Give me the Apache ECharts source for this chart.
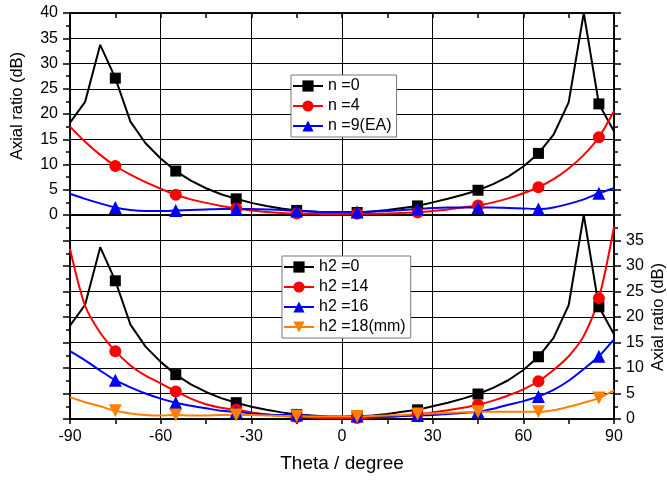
<!DOCTYPE html>
<html>
<head>
<meta charset="utf-8">
<script src="https://cdn.jsdelivr.net/npm/echarts@6/dist/echarts.min.js"></script>
<style>html,body{margin:0;padding:0;background:#fff}#c{width:667px;height:480px}</style>
</head>
<body>
<div id="c"></div>
<script>
// Theta values (degree)
var theta = [-90,-85,-80,-75,-70,-65,-60,-55,-50,-45,-40,-35,-30,-25,-20,-15,-10,-5,0,5,10,15,20,25,30,35,40,45,50,55,60,65,70,75,80,85,90];
var xTicks = [-90,-60,-30,0,30,60,90];
var yTicksTop = [0,5,10,15,20,25,30,35,40];
var yTicksBottom = [0,5,10,15,20,25,30,35];

// Top panel
var n0 = [18.3,22.4,33.7,27.1,18.5,14.2,11.2,8.7,6.8,5.3,4.1,3.2,2.4,1.8,1.3,0.9,0.7,0.5,0.4,0.5,0.7,1.0,1.4,1.8,2.5,3.2,4.0,4.9,6.1,7.6,9.6,12.2,15.9,22.3,40,22.0,16.6];
var n4 = [17.5,14.5,11.9,9.7,8.0,6.5,5.2,4.0,3.1,2.4,1.8,1.3,0.9,0.6,0.4,0.3,0.25,0.2,0.2,0.25,0.25,0.3,0.4,0.5,0.8,1.1,1.5,1.9,2.5,3.3,4.3,5.5,7.1,9.2,11.9,15.4,20.6];
var n9 = [4.2,3.2,2.3,1.5,1.0,0.8,0.8,0.9,1.0,1.1,1.2,1.2,1.2,1.1,1.0,0.8,0.7,0.6,0.6,0.6,0.7,0.8,1.0,1.2,1.4,1.5,1.5,1.5,1.5,1.4,1.3,1.2,1.5,2.2,3.1,4.3,5.3];

// Bottom panel
var h0 = [18.3,22.4,33.7,27.1,18.5,14.2,11.2,8.7,6.8,5.3,4.1,3.2,2.4,1.8,1.3,0.9,0.7,0.5,0.4,0.5,0.7,1.0,1.4,1.8,2.5,3.2,4.0,4.9,6.1,7.6,9.6,12.2,15.9,22.3,40,22.0,16.6];
var h14 = [33.4,22.2,16.9,13.3,10.5,8.5,7.0,5.4,4.0,2.9,2.2,1.8,1.3,0.9,0.6,0.4,0.3,0.2,0.2,0.2,0.3,0.4,0.6,0.9,1.3,1.7,2.2,2.8,3.6,4.6,5.8,7.4,9.6,12.3,16.3,23.7,37.7];
var h16 = [13.3,11.5,9.5,7.6,6.2,5.0,4.0,3.2,2.6,2.1,1.6,1.4,1.1,0.9,0.8,0.8,0.6,0.5,0.5,0.6,0.5,0.5,0.6,0.7,0.8,1.0,1.2,1.4,2.0,2.8,3.5,4.4,5.7,7.5,9.8,12.3,15.6];
var h18 = [4.3,3.3,2.5,1.6,1.1,0.8,0.7,0.8,0.7,0.7,0.8,0.8,0.8,0.7,0.6,0.6,0.5,0.5,0.5,0.5,0.6,0.7,0.8,1.0,1.1,1.2,1.3,1.4,1.4,1.4,1.4,1.4,1.7,2.4,3.2,4.1,5.6];

function pairs(ys){ return theta.map(function(t,i){ return [t, ys[i]]; }); }
function mSize(sz){ return function(v, p){ return (p.dataIndex % 4 === 3) ? sz : 0; }; }

var FONT = 'Liberation Sans, Arial, sans-serif';
var chart = echarts.init(document.getElementById('c'), null, {renderer:'canvas'});

function xAxisCfg(grid, pos, labels){
  return {
    type:'value', gridIndex:grid, position:pos, min:-90, max:90, interval:30,
    axisLine:{show:true, onZero:false, lineStyle:{color:'#000', width:1.5}},
    axisTick:{show:true, inside:!labels, length:5, lineStyle:{color:'#000', width:1.5}},
    minorTick:{show:true, splitNumber:2, length:5, lineStyle:{color:'#000', width:1.5}},
    splitLine:{show:true, lineStyle:{color:'#000', width:1}},
    axisLabel:{show:labels, fontFamily:FONT, fontSize:16, color:'#000', margin:10,
      formatter:function(v){ return xTicks.indexOf(v) >= 0 ? String(v) : ''; }},
    name: labels ? 'Theta / degree' : '', nameLocation:'middle', nameGap:35, nameMoveOverlap:false,
    nameTextStyle:{fontFamily:FONT, fontSize:19, color:'#000'}
  };
}
function yAxisCfg(grid, pos, labels, ticks, name, split){
  return {
    type:'value', gridIndex:grid, position:pos, min:0, max:40, interval:5,
    axisLine:{show:true, onZero:false, lineStyle:{color:'#000', width:1.5}},
    axisTick:{show:true, length:7, lineStyle:{color:'#000', width:1.5}},
    minorTick:{show:true, splitNumber:2, length:4, lineStyle:{color:'#000', width:1.5}},
    splitLine:{show:split, lineStyle:{color:'#000', width:1}},
    axisLabel:{show:labels, fontFamily:FONT, fontSize:16, color:'#000', margin:12,
      formatter:function(v){ return ticks.indexOf(v) >= 0 ? String(v) : ''; }},
    name:name, nameLocation:'middle', nameRotate:90, nameGap: (pos==='left'?44:36), nameMoveOverlap:false,
    nameTextStyle:{fontFamily:FONT, fontSize:16.5, color:'#000', padding:(pos==='left'?[0,0,0,16]:0)}
  };
}

function lineSeries(name, data, color, symbol, size, xi, yi, smooth){
  return {
    type:'line', name:name, data:pairs(data), xAxisIndex:xi, yAxisIndex:yi,
    smooth:smooth, symbol:symbol, symbolSize:mSize(size), showAllSymbol:true,
    lineStyle:{color:color, width:2}, itemStyle:{color:color},
    emphasis:{disabled:true}, animation:false, clip:true
  };
}

var tri = 'triangle';
var invTri = 'path://M0,0 L10,0 L5,9 Z';

var legendBase = {
  orient:'vertical', itemWidth:30, itemHeight:14, itemGap:4,
  backgroundColor:'#fff', borderColor:'#777', borderWidth:1, borderRadius:0,
  textStyle:{fontFamily:FONT, fontSize:16, color:'#000'},
  selectedMode:false
};

chart.setOption({
  backgroundColor:'#fff',
  animation:false,
  grid:[
    {left:70, right:53, top:13, height:202, containLabel:false, outerBoundsMode:'none', show:true, borderColor:'#000', borderWidth:1.5, backgroundColor:'transparent'},
    {left:70, right:53, top:215, height:204, containLabel:false, outerBoundsMode:'none', show:true, borderColor:'#000', borderWidth:1.5, backgroundColor:'transparent'}
  ],
  xAxis:[ xAxisCfg(0,'top',false), xAxisCfg(1,'bottom',true) ],
  yAxis:[
    yAxisCfg(0,'left',true,yTicksTop,'Axial ratio (dB)',true),
    yAxisCfg(0,'right',false,yTicksTop,'',false),
    yAxisCfg(1,'left',false,yTicksBottom,'',true),
    yAxisCfg(1,'right',true,yTicksBottom,'Axial ratio (dB)',false)
  ],
  legend:[
    Object.assign({}, legendBase, {left:291, top:75, padding:[3,5,3,1], data:['n =0','n =4','n =9(EA)']}),
    Object.assign({}, legendBase, {left:282, top:256, padding:[3,5,3,1], data:['h2 =0','h2 =14','h2 =16','h2 =18(mm)']})
  ],
  series:[
    lineSeries('n =0', n0, '#000000', 'rect', 11, 0, 0, false),
    lineSeries('n =4', n4, '#ff0000', 'circle', 12, 0, 0, 0.3),
    lineSeries('n =9(EA)', n9, '#0000ff', tri, 13, 0, 0, 0.3),
    lineSeries('h2 =0', h0, '#000000', 'rect', 11, 1, 2, false),
    lineSeries('h2 =14', h14, '#ff0000', 'circle', 12, 1, 2, 0.3),
    lineSeries('h2 =16', h16, '#0000ff', tri, 13, 1, 2, 0.3),
    lineSeries('h2 =18(mm)', h18, '#ff8000', invTri, 13, 1, 2, 0.3)
  ]
});
</script>
</body>
</html>
